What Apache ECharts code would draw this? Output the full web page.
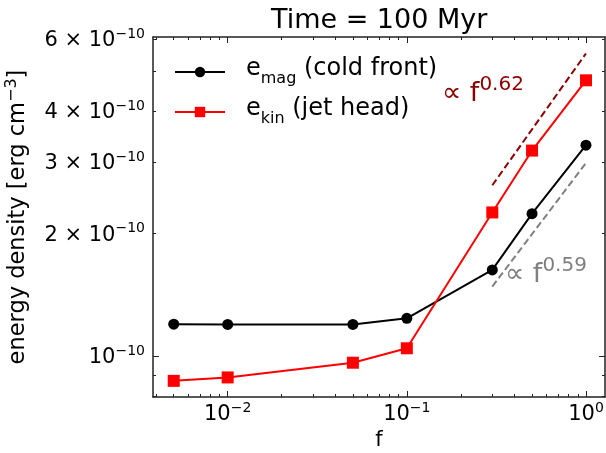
<!DOCTYPE html>
<html>
<head>
<meta charset="utf-8">
<script src="https://cdn.jsdelivr.net/npm/echarts@6/dist/echarts.min.js"></script>
<style>
  html, body { margin: 0; padding: 0; background: #fff; }
  #chart { width: 606px; height: 453px; }
</style>
</head>
<body>
<div id="chart"></div>
<script>
// values
const fValues = [0.005, 0.01, 0.05, 0.1, 0.3, 0.5, 1.0];
const eMag = [1.20e-10, 1.198e-10, 1.198e-10, 1.24e-10, 1.63e-10, 2.24e-10, 3.30e-10];
const eKin = [8.71e-11, 8.88e-11, 9.65e-11, 1.047e-10, 2.256e-10, 3.20e-10, 4.76e-10];

// power-law guide lines
const fitF = [0.3, 1.0];
const fitKin = [2.63e-10, 5.54e-10];   // ∝ f^0.62
const fitMag = [1.484e-10, 2.984e-10]; // ∝ f^0.59

// axis ticks
const xMajorTicks = [0.01, 0.1, 1];
const xMinorTicks = [0.004, 0.005, 0.006, 0.007, 0.008, 0.009,
  0.02, 0.03, 0.04, 0.05, 0.06, 0.07, 0.08, 0.09,
  0.2, 0.3, 0.4, 0.5, 0.6, 0.7, 0.8, 0.9];
const yMajorTicks = [1e-10];
const yMinorTicks = [8e-11, 9e-11, 2e-10, 3e-10, 4e-10, 5e-10, 6e-10];
const yLabelTicks = [1e-10, 2e-10, 3e-10, 4e-10, 6e-10];

const FONT = 'DejaVu Sans';
const xMin = 0.00383, xMax = 1.277;
const yMin = 7.95e-11, yMax = 6.08e-10;

const pairs = (xs, ys) => xs.map((x, i) => [x, ys[i]]);

const supRich = {
  b: { fontFamily: FONT, fontSize: 21, color: '#000', lineHeight: 24, verticalAlign: 'bottom' },
  s: { fontFamily: FONT, fontSize: 14, color: '#000', lineHeight: 14, verticalAlign: 'top' }
};

function yLabel(v) {
  const m = Math.round(v / 1e-10);
  if (m === 1) return '{b|10}{s|−10}';
  return '{b|' + m + ' × 10}{s|−10}';
}
function xLabel(v) {
  const e = Math.round(Math.log10(v));
  return '{b|10}{s|' + (e < 0 ? '−' + (-e) : e) + '}';
}

const lineColor = '#222';

function xAxisDef(pos, ticks, len, showLabel, showLine) {
  return {
    type: 'log', position: pos, min: xMin, max: xMax,
    axisLine: { show: showLine, onZero: false, lineStyle: { color: lineColor, width: 1.5 } },
    axisTick: { show: true, inside: true, length: len, customValues: ticks, lineStyle: { color: lineColor, width: 1 } },
    axisLabel: showLabel ? {
      show: true, customValues: xMajorTicks, margin: 4, formatter: xLabel, rich: supRich
    } : { show: false },
    splitLine: { show: false }, minorTick: { show: false }
  };
}
function yAxisDef(pos, ticks, len, showLabel, showLine) {
  return {
    type: 'log', position: pos, min: yMin, max: yMax,
    axisLine: { show: showLine, onZero: false, lineStyle: { color: lineColor, width: 1.5 } },
    axisTick: { show: true, inside: true, length: len, customValues: ticks, lineStyle: { color: lineColor, width: 1 } },
    axisLabel: showLabel ? {
      show: true, customValues: yLabelTicks, margin: 8, formatter: yLabel, rich: supRich
    } : { show: false },
    splitLine: { show: false }, minorTick: { show: false }
  };
}

const chart = echarts.init(document.getElementById('chart'), null, { renderer: 'canvas' });

const xAxes = [
  xAxisDef('bottom', xMajorTicks, 6, true, true),
  xAxisDef('bottom', xMinorTicks, 3, false, false),
  xAxisDef('top', xMajorTicks, 6, false, true),
  xAxisDef('top', xMinorTicks, 3, false, false)
];
xAxes[0].name = 'f';
xAxes[0].nameLocation = 'middle';
xAxes[0].nameGap = 30;
xAxes[0].nameTextStyle = { fontFamily: FONT, fontSize: 21, color: '#000' };

const yAxes = [
  yAxisDef('left', yMajorTicks, 6, true, true),
  yAxisDef('left', yMinorTicks, 3, false, false),
  yAxisDef('right', yMajorTicks, 6, false, true),
  yAxisDef('right', yMinorTicks, 3, false, false)
];
yAxes[0].name = '{n|energy density [erg cm}{s|−3}{n|]}';
yAxes[0].nameLocation = 'middle';
yAxes[0].nameGap = 123;
yAxes[0].nameRotate = 90;
yAxes[0].nameTextStyle = {
  rich: {
    n: { fontFamily: FONT, fontSize: 22.5, color: '#000', lineHeight: 26, verticalAlign: 'bottom' },
    s: { fontFamily: FONT, fontSize: 16, color: '#000', lineHeight: 16, verticalAlign: 'top' }
  }
};

const legendRich = {
  m: { fontFamily: FONT, fontSize: 24, color: '#000', lineHeight: 30, verticalAlign: 'top' },
  u: { fontFamily: FONT, fontSize: 16, color: '#000', lineHeight: 16, verticalAlign: 'bottom' }
};

const option = {
  animation: false,
  backgroundColor: '#fff',
  grid: { left: 153, right: 1, top: 37, bottom: 56, containLabel: false, outerBoundsMode: 'none' },
  xAxis: xAxes,
  yAxis: yAxes,
  legend: {
    orient: 'vertical', left: 174, top: 57, padding: 0,
    itemWidth: 50, itemHeight: 13, itemGap: 10,
    data: ['emag', 'ekin'],
    formatter: name => name === 'emag'
      ? '{m|e}{u|mag}{m| (cold front)}'
      : '{m|e}{u|kin}{m| (jet head)}',
    textStyle: { rich: legendRich, padding: [0, 0, 0, 16] }
  },
  graphic: [
    {
      type: 'text', left: 271, top: 7,
      style: { text: 'Time = 100 Myr', font: '27px "DejaVu Sans"', fill: '#000' }
    },
    {
      type: 'text', left: 442, top: 75,
      style: {
        text: '{a|∝ f}{b|0.62}',
        rich: {
          a: { fontFamily: FONT, fontSize: 27, fill: '#8b0000', lineHeight: 32, verticalAlign: 'bottom' },
          b: { fontFamily: FONT, fontSize: 20, fill: '#8b0000', lineHeight: 20, verticalAlign: 'top' }
        }
      }
    },
    {
      type: 'text', left: 505, top: 256,
      style: {
        text: '{a|∝ f}{b|0.59}',
        rich: {
          a: { fontFamily: FONT, fontSize: 27, fill: '#808080', lineHeight: 32, verticalAlign: 'bottom' },
          b: { fontFamily: FONT, fontSize: 20, fill: '#808080', lineHeight: 20, verticalAlign: 'top' }
        }
      }
    }
  ],
  series: [
    {
      name: 'fitKin', type: 'line', data: pairs(fitF, fitKin), symbol: 'none',
      lineStyle: { color: '#8b0000', width: 2, type: [7, 3.5] }, z: 1
    },
    {
      name: 'fitMag', type: 'line', data: pairs(fitF, fitMag), symbol: 'none',
      lineStyle: { color: '#808080', width: 2, type: [7, 3.5] }, z: 1
    },
    {
      name: 'emag', type: 'line', data: pairs(fValues, eMag),
      symbol: 'circle', symbolSize: 11,
      itemStyle: { color: '#000' }, lineStyle: { color: '#000', width: 2 }, z: 3
    },
    {
      name: 'ekin', type: 'line', data: pairs(fValues, eKin),
      symbol: 'rect', symbolSize: 12,
      itemStyle: { color: '#ff0000' }, lineStyle: { color: '#ff0000', width: 2 }, z: 3
    }
  ]
};

chart.setOption(option);
</script>
</body>
</html>
